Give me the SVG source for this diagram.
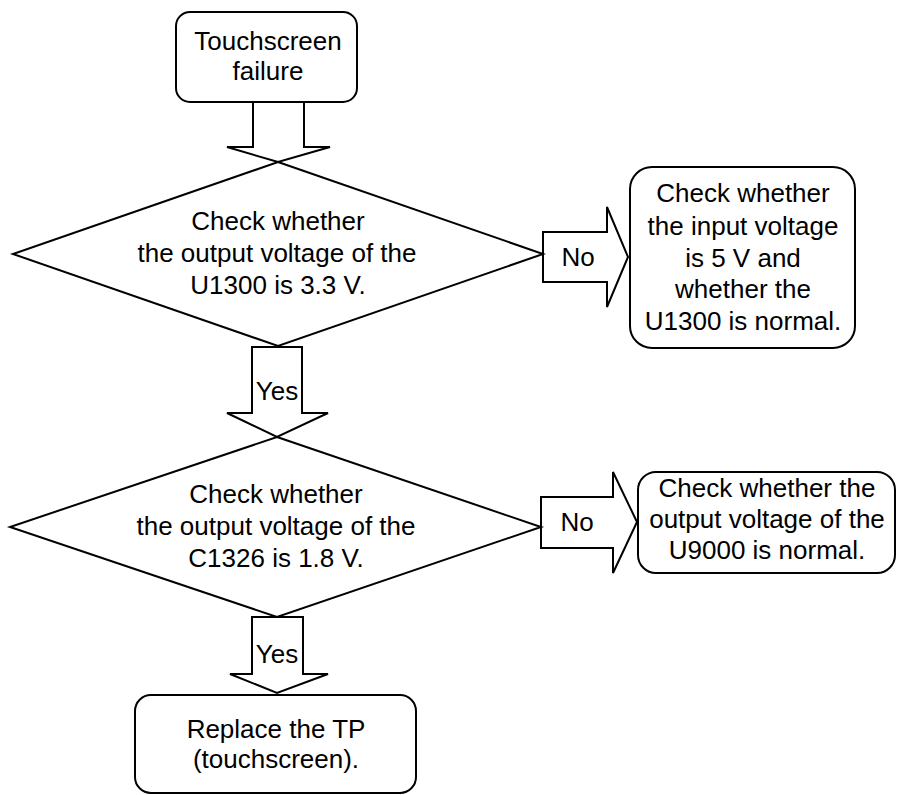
<svg xmlns="http://www.w3.org/2000/svg" width="897" height="795" viewBox="0 0 897 795">
  <style>
    .shape { fill: none; stroke: #000; stroke-width: 2; stroke-linejoin: miter; }
    .box { fill: #fff; stroke: #000; stroke-width: 2; }
    .label { font-family: "Liberation Sans", Arial, sans-serif; font-size: 26px; fill: #000; text-anchor: middle; }
  </style>
  <rect width="897" height="795" fill="#fff"/>

  <!-- Block arrows between steps -->
  <g id="connectors">
    <!-- start to first check -->
    <polygon class="shape" points="253,102 304,102 304,147 330,147 278,162 227,147 253,147"/>
    <!-- first check: No -->
    <g id="arrow-no-1">
      <polygon class="shape" points="543,232 607,232 607,207 628,257 607,307 607,282 543,282"/>
      <text class="label" x="578" y="266">No</text>
    </g>
    <!-- first check: Yes -->
    <g id="arrow-yes-1">
      <polygon class="shape" points="252,347 302,347 302,413 328,413 277,437 227,413 252,413"/>
      <text class="label" x="277" y="400">Yes</text>
    </g>
    <!-- second check: No -->
    <g id="arrow-no-2">
      <polygon class="shape" points="541,497 613,497 613,472 637,522 613,573 613,548 541,548"/>
      <text class="label" x="577" y="531">No</text>
    </g>
    <!-- second check: Yes -->
    <g id="arrow-yes-2">
      <polygon class="shape" points="252,617 303,617 303,674 328,674 277,693 230,674 252,674"/>
      <text class="label" x="277" y="663">Yes</text>
    </g>
  </g>

  <g id="start">
    <rect class="box" x="176" y="12" width="181" height="90" rx="14"/>
    <text class="label" x="268" y="50">Touchscreen</text>
    <text class="label" x="268" y="80">failure</text>
  </g>

  <g id="check-u1300">
    <polygon class="shape" points="278,162 543,254 278,346 13,254"/>
    <text class="label" x="278" y="230">Check whether</text>
    <text class="label" x="277" y="262">the output voltage of the</text>
    <text class="label" x="278" y="294">U1300 is 3.3 V.</text>
  </g>

  <g id="check-input">
    <rect class="box" x="630" y="167" width="225" height="181" rx="22"/>
    <text class="label" x="743" y="202">Check whether</text>
    <text class="label" x="743" y="235">the input voltage</text>
    <text class="label" x="743" y="267">is 5 V and</text>
    <text class="label" x="743" y="298">whether the</text>
    <text class="label" x="743" y="330">U1300 is normal.</text>
  </g>

  <g id="check-c1326">
    <polygon class="shape" points="277,437 541,527 277,617 10,527"/>
    <text class="label" x="276" y="503">Check whether</text>
    <text class="label" x="276" y="535">the output voltage of the</text>
    <text class="label" x="276" y="567">C1326 is 1.8 V.</text>
  </g>

  <g id="check-u9000">
    <rect class="box" x="638" y="472" width="257" height="101" rx="18"/>
    <text class="label" x="767" y="497">Check whether the</text>
    <text class="label" x="767" y="528">output voltage of the</text>
    <text class="label" x="767" y="559">U9000 is normal.</text>
  </g>

  <g id="replace-tp">
    <rect class="box" x="135" y="695" width="281" height="98" rx="16"/>
    <text class="label" x="276" y="738">Replace the TP</text>
    <text class="label" x="276" y="768">(touchscreen).</text>
  </g>
</svg>
